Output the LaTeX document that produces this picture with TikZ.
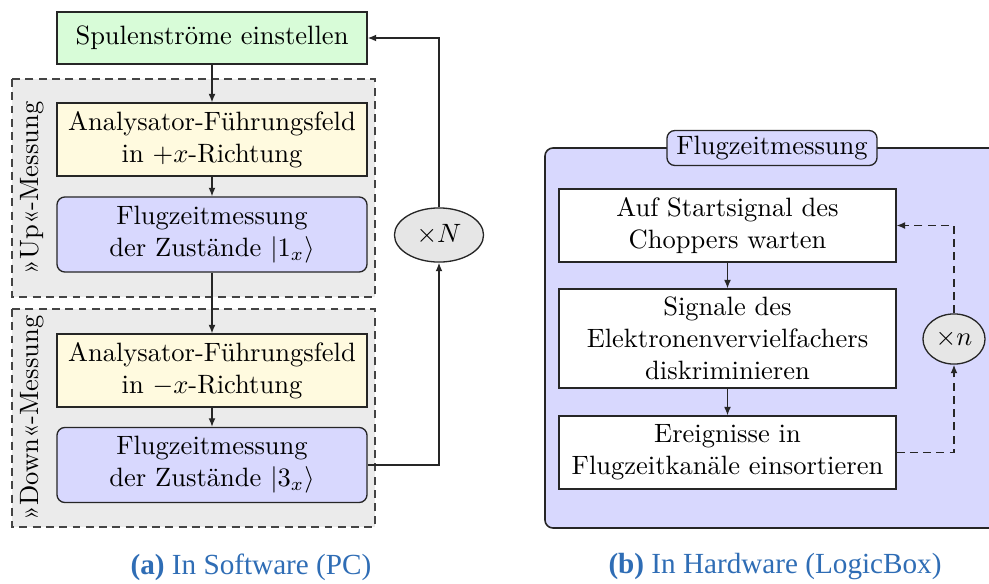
\documentclass[tikz,border=0pt]{standalone}
\usepackage{fontspec}
\newfontfamily\capfont{Liberation Serif}
\usetikzlibrary{arrows.meta,shapes.geometric}
\definecolor{boxgreen}{HTML}{D8FCD8}
\definecolor{boxyellow}{HTML}{FFFADF}
\definecolor{boxblue}{HTML}{D8D8FE}
\definecolor{groupgray}{HTML}{EBEBEB}
\definecolor{ellgray}{HTML}{E6E6E6}
\definecolor{capblue}{HTML}{2F6DB5}
\definecolor{framegray}{HTML}{444444}
\tikzset{
  every picture/.style={x=0.377pt,y=-0.377pt},
  base/.style={draw=black!85,line width=0.5pt,align=center,inner sep=0pt,font=\fontsize{10}{12}\selectfont},
  greenbox/.style={base,fill=boxgreen,minimum width=116.9pt,minimum height=19.6pt},
  yellowbox/.style={base,fill=boxyellow,minimum width=116.9pt,minimum height=27.5pt},
  bluebox/.style={base,fill=boxblue,rounded corners=3pt,minimum width=116.9pt,minimum height=28.3pt},
  whitebox/.style={base,fill=white,minimum width=127pt},
  loopell/.style={base,ellipse,fill=ellgray},
  group/.style={draw=framegray,fill=groupgray,dashed,dash pattern=on 3pt off 2pt,line width=0.6pt},
  conn/.style={draw=black!85,line width=0.5pt,-{Latex[length=3.2pt,width=2.6pt]}},
  dconn/.style={conn,dashed,dash pattern=on 3pt off 2pt},
  grplabel/.style={rotate=90,inner sep=0pt,font=\fontsize{10}{12}\selectfont},
  caption/.style={text=capblue,inner sep=0pt,font=\capfont\fontsize{11}{13}\selectfont}
}
\begin{document}
\begin{tikzpicture}
\clip (0,0) rectangle (989,583);
\useasboundingbox (0,0) rectangle (989,583);
% group frames
\draw[group] (12,79) rectangle (375,297);
\draw[group] (12,309) rectangle (375,527);
\node[grplabel] (lup) at (32,188) {»Up«-Messung};
\node[grplabel] (ldown) at (32,418) {»Down«-Messung};
% left chain
\node[greenbox] (green) at (212,38) {Spulenströme einstellen};
\node[yellowbox] (y1) at (212,139.5) {Analysator-Führungsfeld\\in $+x$-Richtung};
\node[bluebox] (b1) at (212,234.5) {Flugzeitmessung\\der Zustände $|1_x\rangle$};
\node[yellowbox] (y2) at (212,370.5) {Analysator-Führungsfeld\\in $-x$-Richtung};
\node[bluebox] (b2) at (212,465) {Flugzeitmessung\\der Zustände $|3_x\rangle$};
\node[loopell,minimum width=33.6pt,minimum height=20.4pt] (N) at (439,235) {$\times N$};
\draw[conn] (green) -- (y1);
\draw[conn] (y1) -- (b1);
\draw[conn] (b1) -- (y2);
\draw[conn] (y2) -- (b2);
\draw[conn] (b2.east) -| (N.south);
\draw[conn] (N.north) |- (green.east);
% right panel
\draw[draw=black!85,fill=boxblue,line width=0.6pt,rounded corners=3pt] (545,148) rectangle (1005,528);
\node[base,fill=boxblue,rounded corners=3pt,minimum width=79.2pt,minimum height=13.2pt] (title) at (772,148) {Flugzeitmessung};
\node[whitebox,minimum height=27.5pt] (r1) at (727.5,225.5) {Auf Startsignal des\\Choppers warten};
\node[whitebox,minimum height=37.3pt] (r2) at (727.5,338.5) {Signale des\\Elektronenvervielfachers\\diskriminieren};
\node[whitebox,minimum height=27.5pt] (r3) at (727.5,452.5) {Ereignisse in\\Flugzeitkanäle einsortieren};
\node[loopell,minimum width=23.4pt,minimum height=18.9pt] (n) at (954,339) {$\times n$};
\draw[conn] (r1) -- (r2);
\draw[conn] (r2) -- (r3);
\draw[dconn] (r3.east) -| (n.south);
\draw[dconn] (n.north) |- (r1.east);
% captions
\node[caption] (capa) at (251,567) {\textbf{(a)} In Software (PC)};
\node[caption] (capb) at (775,567) {\textbf{(b)} In Hardware (LogicBox)};
\end{tikzpicture}
\end{document}
